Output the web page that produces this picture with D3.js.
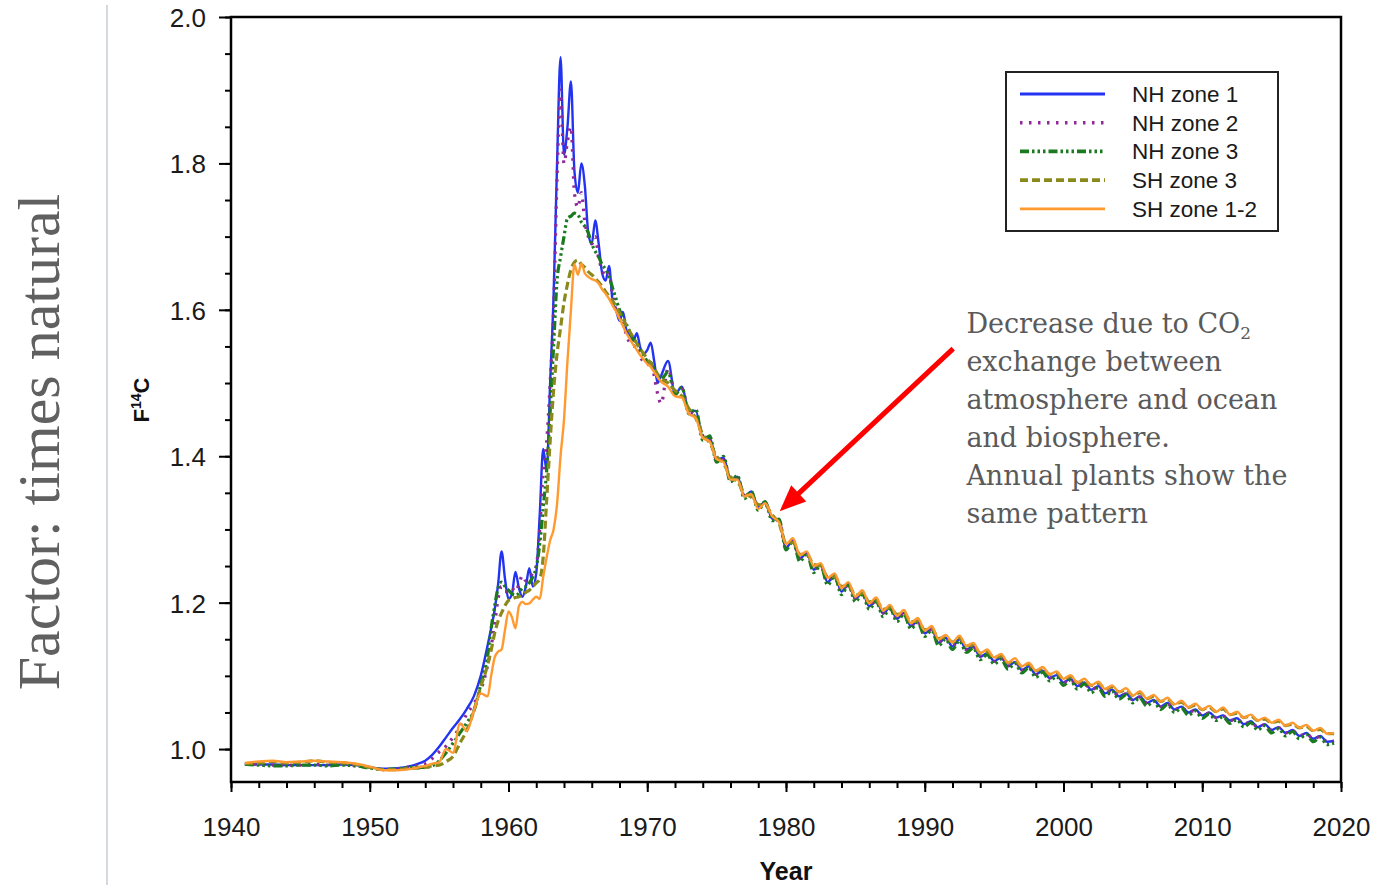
<!DOCTYPE html>
<html>
<head>
<meta charset="utf-8">
<script src="https://cdn.jsdelivr.net/npm/d3@7"></script>
<style>
  body { margin: 0; background: #fff; }
  svg text { font-family: "Liberation Sans", Arial, sans-serif; }
</style>
</head>
<body>
<script>
/*
 * bomb radiocarbon curves, F14C by zone
 */

// sample dates (decimal years)
let years = [1941,1942,1943,1944,1945,1946,1947,1948,1949,1950,1951,1952,1953,
  1953.5,1954,1954.5,1955,1955.5,1956,1956.5,1957,1957.5,1958,1958.5,
  1958.75,1959,1959.25,1959.5,1959.75,1960,1960.25,1960.5,1960.75,1961,1961.25,1961.5,1961.75,1962,1962.25,1962.5,1962.75,
  1963,1963.25,1963.5,1963.75,1964,1964.25,1964.5,1964.75,1965,1965.25,1965.5,1965.75,1966,1966.25,1966.5,1966.75,
  1967,1967.25,1967.5,1967.75,1968,1968.25,1968.5,1968.75,1969,1969.25,1969.5,1969.75,1970,1970.25,1970.5,1970.75,1971,
  1971.5,1972,1972.5,1973,1973.5,1974,1974.5,1975,1975.5,1976,1976.5,1977,1977.5,1978,1978.5,1979,1979.5,1980,1980.5,
  1981,1981.5,1982,1982.5,1983,1983.5,1984,1984.5,1985,1985.5,1986,1986.5,1987,1987.5,1988,1988.5,1989,1989.5,1990,1990.5,
  1991,1991.5,1992,1992.5,1993,1993.5,1994,1994.5,1995,1995.5,1996,1996.5,1997,1997.5,1998,1998.5,1999,1999.5,2000,2000.5,
  2001,2001.5,2002,2002.5,2003,2003.5,2004,2004.5,2005,2005.5,2006,2006.5,2007,2007.5,2008,2008.5,2009,2009.5,2010,2010.5,
  2011,2011.5,2012,2012.5,2013,2013.5,2014,2014.5,2015,2015.5,2016,2016.5,2017,2017.5,2018,2018.5,2019,2019.5];

let nhZone1 = [0.980,0.979,0.979,0.978,0.978,0.978,0.978,0.979,0.978,0.975,0.973,0.974,0.977,
  0.980,0.984,0.992,1.003,1.016,1.029,1.041,1.055,1.072,1.100,1.142,
  1.165,1.190,1.225,1.270,1.232,1.205,1.212,1.242,1.220,1.208,1.222,1.247,1.222,1.240,1.320,1.410,1.380,
  1.500,1.620,1.800,1.945,1.812,1.850,1.912,1.790,1.760,1.800,1.770,1.705,1.690,1.722,1.690,1.650,
  1.640,1.660,1.612,1.600,1.585,1.597,1.572,1.566,1.558,1.568,1.548,1.540,1.545,1.555,1.530,1.500,1.510,
  1.530,1.485,1.495,1.462,1.462,1.425,1.425,1.395,1.398,1.368,1.372,1.345,1.352,1.330,1.338,1.315,1.312,1.275,1.285,
  1.260,1.268,1.245,1.252,1.228,1.238,1.215,1.226,1.205,1.214,1.195,1.204,1.185,1.194,1.178,1.186,1.168,1.175,1.158,1.164,
  1.145,1.152,1.140,1.150,1.136,1.140,1.126,1.131,1.120,1.125,1.113,1.119,1.108,1.113,1.102,1.107,1.097,1.101,1.091,1.096,
  1.086,1.091,1.081,1.086,1.076,1.081,1.072,1.076,1.067,1.072,1.063,1.067,1.058,1.063,1.054,1.058,1.050,1.054,1.046,1.050,
  1.043,1.046,1.039,1.042,1.034,1.038,1.030,1.034,1.026,1.030,1.022,1.026,1.018,1.022,1.014,1.018,1.010,1.011];

let nhZone2 = [0.980,0.979,0.978,0.978,0.978,0.979,0.978,0.979,0.977,0.975,0.972,0.973,0.976,
  0.978,0.980,0.987,0.996,1.004,1.016,1.030,1.048,1.062,1.080,1.115,
  1.140,1.170,1.205,1.222,1.215,1.215,1.220,1.215,1.225,1.237,1.230,1.235,1.240,1.250,1.300,1.380,1.420,
  1.500,1.600,1.780,1.900,1.800,1.830,1.850,1.760,1.740,1.760,1.720,1.700,1.690,1.700,1.670,1.655,
  1.645,1.650,1.620,1.600,1.590,1.585,1.565,1.555,1.550,1.552,1.535,1.530,1.525,1.530,1.510,1.485,1.472,
  1.520,1.488,1.492,1.460,1.458,1.428,1.422,1.396,1.395,1.370,1.370,1.347,1.350,1.331,1.336,1.316,1.311,1.277,1.283,
  1.261,1.266,1.246,1.250,1.229,1.236,1.216,1.224,1.206,1.212,1.196,1.202,1.186,1.192,1.178,1.184,1.168,1.174,1.158,1.163,
  1.146,1.151,1.141,1.148,1.136,1.139,1.127,1.130,1.120,1.124,1.114,1.118,1.108,1.112,1.102,1.106,1.097,1.100,1.091,1.095,
  1.086,1.090,1.081,1.085,1.076,1.080,1.072,1.075,1.067,1.071,1.063,1.066,1.058,1.062,1.054,1.057,1.050,1.053,1.046,1.049,
  1.043,1.045,1.039,1.041,1.034,1.037,1.030,1.033,1.026,1.029,1.022,1.025,1.018,1.021,1.014,1.017,1.010,1.011];

let nhZone3 = [0.979,0.978,0.977,0.977,0.978,0.978,0.977,0.978,0.977,0.974,0.972,0.973,0.975,
  0.975,0.975,0.977,0.984,0.995,1.008,1.022,1.036,1.052,1.088,1.128,
  1.165,1.195,1.220,1.228,1.222,1.217,1.212,1.210,1.213,1.220,1.222,1.227,1.235,1.248,1.280,1.330,1.380,
  1.460,1.550,1.640,1.672,1.700,1.725,1.728,1.732,1.730,1.720,1.714,1.705,1.690,1.680,1.672,1.662,
  1.655,1.645,1.630,1.615,1.600,1.590,1.580,1.570,1.560,1.555,1.545,1.538,1.530,1.528,1.520,1.510,1.505,
  1.515,1.484,1.494,1.458,1.464,1.422,1.428,1.392,1.400,1.365,1.374,1.342,1.352,1.326,1.338,1.312,1.314,1.272,1.284,
  1.256,1.267,1.241,1.251,1.224,1.236,1.211,1.224,1.201,1.212,1.191,1.202,1.181,1.192,1.174,1.184,1.164,1.173,1.154,1.162,
  1.141,1.150,1.136,1.148,1.132,1.138,1.122,1.129,1.116,1.123,1.109,1.117,1.104,1.111,1.098,1.105,1.093,1.099,1.087,1.094,
  1.082,1.089,1.077,1.084,1.072,1.079,1.068,1.074,1.063,1.070,1.059,1.065,1.054,1.061,1.050,1.056,1.046,1.052,1.042,1.048,
  1.039,1.044,1.035,1.040,1.030,1.036,1.026,1.032,1.022,1.028,1.018,1.024,1.014,1.020,1.010,1.016,1.006,1.008];

let shZone3 = [0.980,0.981,0.983,0.981,0.982,0.984,0.982,0.981,0.979,0.975,0.972,0.972,0.974,
  0.974,0.975,0.977,0.978,0.983,0.990,1.008,1.026,1.052,1.085,1.115,
  1.135,1.158,1.175,1.186,1.196,1.203,1.205,1.207,1.208,1.211,1.214,1.217,1.222,1.227,1.232,1.262,1.340,
  1.420,1.490,1.540,1.575,1.610,1.635,1.655,1.665,1.668,1.662,1.658,1.652,1.648,1.643,1.638,1.632,
  1.625,1.618,1.612,1.605,1.596,1.588,1.578,1.570,1.562,1.554,1.546,1.540,1.533,1.527,1.520,1.512,1.506,
  1.500,1.490,1.482,1.465,1.452,1.430,1.418,1.400,1.390,1.372,1.365,1.350,1.344,1.334,1.333,1.320,1.308,1.282,1.282,
  1.266,1.266,1.252,1.250,1.236,1.236,1.222,1.224,1.210,1.213,1.201,1.203,1.191,1.193,1.184,1.186,1.174,1.175,1.163,1.165,
  1.151,1.153,1.146,1.152,1.141,1.142,1.131,1.133,1.125,1.127,1.118,1.121,1.113,1.116,1.107,1.110,1.102,1.104,1.096,1.099,
  1.091,1.094,1.087,1.090,1.082,1.085,1.078,1.081,1.073,1.077,1.069,1.072,1.065,1.068,1.061,1.064,1.057,1.060,1.054,1.057,
  1.051,1.055,1.047,1.049,1.043,1.045,1.039,1.041,1.036,1.038,1.032,1.034,1.029,1.031,1.025,1.027,1.021,1.021];

let shZone12 = [0.981,0.983,0.984,0.982,0.983,0.984,0.983,0.982,0.980,0.976,0.971,0.971,0.973,
  0.975,0.977,0.980,0.982,1.000,0.995,1.035,1.025,1.052,1.076,1.072,
  1.100,1.125,1.133,1.136,1.163,1.188,1.180,1.165,1.195,1.201,1.198,1.199,1.204,1.208,1.205,1.235,1.262,
  1.285,1.300,1.335,1.400,1.450,1.530,1.600,1.662,1.648,1.663,1.650,1.645,1.642,1.640,1.636,1.628,
  1.622,1.615,1.606,1.598,1.588,1.578,1.568,1.560,1.552,1.545,1.538,1.532,1.526,1.522,1.515,1.508,1.502,
  1.495,1.482,1.480,1.458,1.452,1.425,1.420,1.396,1.392,1.368,1.368,1.345,1.348,1.328,1.336,1.318,1.310,1.280,1.288,
  1.265,1.270,1.250,1.254,1.234,1.240,1.220,1.228,1.208,1.217,1.199,1.207,1.189,1.197,1.182,1.190,1.172,1.179,1.162,1.168,
  1.150,1.156,1.146,1.155,1.141,1.145,1.131,1.136,1.125,1.130,1.118,1.124,1.113,1.118,1.107,1.112,1.102,1.106,1.096,1.101,
  1.091,1.096,1.087,1.092,1.082,1.087,1.078,1.083,1.073,1.079,1.069,1.074,1.065,1.070,1.061,1.066,1.057,1.062,1.054,1.059,
  1.051,1.057,1.047,1.051,1.043,1.047,1.039,1.043,1.036,1.040,1.032,1.036,1.029,1.033,1.025,1.029,1.021,1.022];

let seriesNames = ['NH zone 1', 'NH zone 2', 'NH zone 3', 'SH zone 3', 'SH zone 1-2'];
let seriesValues = [nhZone1, nhZone2, nhZone3, shZone3, shZone12];

let xTickLabels = [1940, 1950, 1960, 1970, 1980, 1990, 2000, 2010, 2020];
let yTickLabels = [1.0, 1.2, 1.4, 1.6, 1.8, 2.0];

let annotationLines = ['Decrease due to CO', 'exchange between', 'atmosphere and ocean',
  'and biosphere.', 'Annual plants show the', 'same pattern'];

// line look for each zone, same order as seriesNames
let lineStyles = [
  { color: '#2233f2', width: 2.4, dash: null },
  { color: '#8e2a98', width: 3.2, dash: '2.5,6.5' },
  { color: '#1b7a1f', width: 3.2, dash: '9,3,2.5,3,2.5,3,2.5,3' },
  { color: '#8a8a1c', width: 3.2, dash: '8,4' },
  { color: '#ff9a30', width: 2.4, dash: null }
];

let svgWidth = 1373;
let svgHeight = 885;
let margin = { top: 17, right: 32, bottom: 103, left: 231 };

let svg = d3.select('body')
  .append('svg')
  .attr('width', svgWidth)
  .attr('height', svgHeight);

let xScale = d3.scaleLinear()
  .domain([1940, 2020])
  .range([margin.left, svgWidth - margin.right]);

let yScale = d3.scaleLinear()
  .domain([0.955, 2.0])
  .range([svgHeight - margin.bottom, margin.top]);

let x0 = xScale.range()[0], x1 = xScale.range()[1];
let yBottom = yScale.range()[0], yTop = yScale.range()[1];

// slide divider + side caption
svg.append('line')
  .attr('x1', 107).attr('x2', 107)
  .attr('y1', 5).attr('y2', svgHeight)
  .attr('stroke', '#d3d9df')
  .attr('stroke-width', 2);

svg.append('text')
  .attr('transform', 'translate(59,442) rotate(-90)')
  .attr('text-anchor', 'middle')
  .style('font-family', '"Liberation Serif", "Times New Roman", serif')
  .style('font-size', '60px')
  .attr('fill', '#606060')
  .text('Factor: times natural');

// series lines
let line = d3.line()
  .x(d => xScale(d[0]))
  .y(d => yScale(d[1]))
  .curve(d3.curveMonotoneX);

let plot = svg.append('g');

seriesValues.forEach((vals, i) => {
  let n = Math.min(years.length, vals.length);
  let pts = d3.range(n).map(k => [years[k], vals[k]]);
  let st = lineStyles[i];
  plot.append('path')
    .datum(pts)
    .attr('d', line)
    .attr('fill', 'none')
    .attr('stroke', st.color)
    .attr('stroke-width', st.width)
    .attr('stroke-linejoin', 'round')
    .attr('stroke-dasharray', st.dash);
});

// axes: major ticks with labels, minor ticks without
let xMajor = d3.axisBottom(xScale).tickValues(xTickLabels).tickSize(10).tickFormat(d3.format('d'));
let xMinor = d3.axisBottom(xScale).tickValues(d3.range(1940, 2021, 2)).tickSize(6).tickFormat('');
let yMajor = d3.axisLeft(yScale).tickValues(yTickLabels).tickSize(12).tickFormat(d3.format('.1f'));
let yMinor = d3.axisLeft(yScale).tickValues(d3.range(1.0, 2.001, 0.05)).tickSize(6).tickFormat('');

function styleAxis(g) {
  g.select('.domain').remove();
  g.selectAll('.tick line').attr('stroke', '#000').attr('stroke-width', 2);
  g.selectAll('.tick text')
    .attr('fill', '#1a1a1a')
    .style('font-family', '"Liberation Sans", Arial, sans-serif')
    .style('font-size', '26px');
}

svg.append('g').attr('transform', `translate(0,${yBottom})`).call(xMinor).call(styleAxis);
svg.append('g').attr('transform', `translate(0,${yBottom})`).call(xMajor).call(styleAxis)
  .selectAll('.tick text').attr('dy', null).attr('y', 54);
svg.append('g').attr('transform', `translate(${x0},0)`).call(yMinor).call(styleAxis);
svg.append('g').attr('transform', `translate(${x0},0)`).call(yMajor).call(styleAxis)
  .selectAll('.tick text').attr('x', -25).attr('dy', '0.36em');

// plot frame
svg.append('rect')
  .attr('x', x0).attr('y', yTop)
  .attr('width', x1 - x0).attr('height', yBottom - yTop)
  .attr('fill', 'none')
  .attr('stroke', '#000')
  .attr('stroke-width', 2.5);

// axis titles
svg.append('text')
  .attr('x', (x0 + x1) / 2)
  .attr('y', 880)
  .attr('text-anchor', 'middle')
  .style('font-weight', 'bold')
  .style('font-size', '25px')
  .attr('fill', '#111')
  .text('Year');

let yTitle = svg.append('text')
  .attr('transform', 'translate(149,400) rotate(-90)')
  .attr('text-anchor', 'middle')
  .style('font-weight', 'bold')
  .style('font-size', '22px')
  .attr('fill', '#111');
yTitle.append('tspan').text('F');
yTitle.append('tspan').attr('dy', -8).style('font-size', '14px').text('14');
yTitle.append('tspan').attr('dy', 8).text('C');

// legend
let legendX = 1006, legendY = 72, legendW = 272, legendH = 159, rowH = 28.7;
let legend = svg.append('g').attr('transform', `translate(${legendX},${legendY})`);
legend.append('rect')
  .attr('width', legendW).attr('height', legendH)
  .attr('fill', '#fff')
  .attr('stroke', '#222')
  .attr('stroke-width', 2);

let rows = legend.selectAll('g.row')
  .data(seriesNames)
  .enter()
  .append('g')
  .attr('class', 'row')
  .attr('transform', (d, i) => `translate(0,${22 + i * rowH})`);

rows.append('line')
  .attr('x1', 14).attr('x2', 99)
  .attr('y1', 0).attr('y2', 0)
  .attr('stroke', (d, i) => lineStyles[i].color)
  .attr('stroke-width', (d, i) => lineStyles[i].width + 0.4)
  .attr('stroke-dasharray', (d, i) => lineStyles[i].dash);

rows.append('text')
  .attr('x', 126)
  .attr('y', 8)
  .style('font-size', '22.5px')
  .attr('fill', '#1a1a1a')
  .text(d => d);

// annotation: arrow onto the decline plus explanation text
let tail = [xScale(1992.05), yScale(1.547)];
let tip = [xScale(1979.55), yScale(1.325)];
let ang = Math.atan2(tip[1] - tail[1], tip[0] - tail[0]);
let headLen = 26, headHalf = 11;
let base = [tip[0] - headLen * Math.cos(ang), tip[1] - headLen * Math.sin(ang)];

svg.append('line')
  .attr('x1', tail[0]).attr('y1', tail[1])
  .attr('x2', base[0] + 4 * Math.cos(ang)).attr('y2', base[1] + 4 * Math.sin(ang))
  .attr('stroke', '#ff0000')
  .attr('stroke-width', 5);

svg.append('polygon')
  .attr('points', [
    tip,
    [base[0] + headHalf * Math.sin(ang), base[1] - headHalf * Math.cos(ang)],
    [base[0] - headHalf * Math.sin(ang), base[1] + headHalf * Math.cos(ang)]
  ].map(p => p.join(',')).join(' '))
  .attr('fill', '#ff0000');

let note = svg.append('text')
  .attr('x', xScale(1993))
  .attr('y', yScale(1.568))
  .style('font-family', '"DejaVu Serif", Georgia, serif')
  .style('font-size', '27px')
  .attr('fill', '#5a5a5a');

annotationLines.forEach((t, i) => {
  note.append('tspan')
    .attr('x', xScale(1993))
    .attr('dy', i === 0 ? 0 : (i === 1 ? 32 : 38))
    .text(t);
  if (i === 0) {
    note.append('tspan').attr('dy', 6).style('font-size', '17px').text('2');
  }
});
</script>
</body>
</html>
